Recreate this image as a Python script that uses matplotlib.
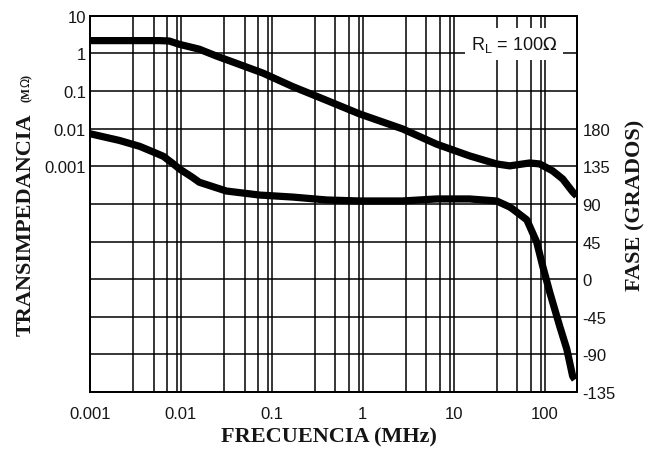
import matplotlib.pyplot as plt
import numpy as np

# transimpedancia (MOhm) vs frecuencia (MHz)
freq_mag = [0.001, 0.0058, 0.0074, 0.0096, 0.0125, 0.0159, 0.0244, 0.0367, 0.08,
            0.168, 0.398, 0.918, 2.73, 6.46, 14.9, 29.6, 41.2, 68.3, 88, 122,
            158, 203, 225]
mag = [2.2, 2.2, 2.15, 1.75, 1.5, 1.3, 0.86, 0.6, 0.3,
       0.133, 0.057, 0.0248, 0.0099, 0.0039, 0.0019, 0.00116, 0.00103, 0.00123,
       0.00116, 0.00076, 0.00046, 0.00021, 0.000163]

# fase (grados) vs frecuencia (MHz)
freq_phase = [0.001, 0.0021, 0.0035, 0.005, 0.0064, 0.008, 0.0096, 0.0133, 0.0159,
              0.0315, 0.0727, 0.168, 0.398, 0.918, 2.73, 6.46, 14.9, 29.6, 41.2,
              44.4, 63.6, 81.6, 95, 113.5, 146, 175, 203, 215]
phase = [174, 166, 159, 152, 147, 139, 132, 122, 116,
         105.5, 100.7, 98.3, 94.8, 93.6, 93.6, 96, 96, 93.6, 86.4,
         84, 71, 44.5, 15.8, -15.4, -56, -83.6, -116, -120]

x_ticks = [0.001, 0.01, 0.1, 1, 10, 100]
x_labels = ["0.001", "0.01", "0.1", "1", "10", "100"]
mag_ticks = [10, 1, 0.1, 0.01, 0.001]
mag_labels = ["10", "1", "0.1", "0.01", "0.001"]
phase_ticks = [180, 135, 90, 45, 0, -45, -90, -135]
phase_labels = ["180", "135", "90", "45", "0", "-45", "-90", "-135"]

sans = "Liberation Sans"
serif = "Liberation Serif"
ink = "#151515"

fig = plt.figure(figsize=(6.48, 4.56), dpi=100)
ax = fig.add_axes([0.139, 0.138, 0.751, 0.825])
ax2 = ax.twinx()

ax.set_xscale("log")
ax.set_yscale("log")
ax.set_xlim(0.001, 225)
ax.set_ylim(1e-9, 10)
ax2.set_ylim(-135, 315)

# grid: decades plus 3, 5, 7, 9 in every decade
minor_x = [m * d for d in [0.001, 0.01, 0.1, 1, 10, 100] for m in (3, 5, 7, 9)]
minor_x = [v for v in minor_x if v < 225]
ax.set_xticks(x_ticks)
ax.set_xticklabels(x_labels)
ax.set_xticks(minor_x, minor=True)
ax.set_xticklabels([], minor=True)

decades = [10.0 ** k for k in range(-9, 2)]
ax.set_yticks(decades)
ax.set_yticklabels([mag_labels[mag_ticks.index(d)] if d in mag_ticks else "" for d in decades])
ax.yaxis.set_minor_locator(plt.NullLocator())

ph_grid = np.arange(-135, 316, 45)
ax2.set_yticks(ph_grid)
ax2.set_yticklabels([phase_labels[phase_ticks.index(v)] if v in phase_ticks else ""
                     for v in ph_grid])

ax.grid(True, which="both", axis="x", color="black", linewidth=1.1)
ax.grid(True, which="major", axis="y", color="black", linewidth=1.1)

for a in (ax, ax2):
    a.tick_params(which="both", length=0, labelsize=12, colors=ink)
    for s in a.spines.values():
        s.set_linewidth(1.3)
        s.set_color("black")
    for lbl in a.get_xticklabels() + a.get_yticklabels():
        lbl.set_fontfamily(sans)
ax.tick_params(axis="x", pad=10)
ax.tick_params(axis="y", pad=3)
ax2.tick_params(axis="y", pad=4)

ax.plot(freq_mag, mag, color="black", linewidth=5.2, solid_capstyle="butt", zorder=3)
ax2.plot(freq_phase, phase, color="black", linewidth=5.2, solid_capstyle="butt", zorder=3)

ax2.text(0.871, 0.925, r"R$_\mathregular{L}$ = 100$\Omega$", transform=ax2.transAxes,
         ha="center", va="center", fontsize=13, family=sans, color=ink, zorder=5,
         bbox=dict(facecolor="white", edgecolor="none", pad=4.5))

fig.text(0.508, 0.04, "FRECUENCIA (MHz)", ha="center", va="center",
         family=serif, fontweight="bold", fontsize=16, color=ink)
fig.text(0.039, 0.507, "TRANSIMPEDANCIA", rotation=90, ha="center", va="center",
         family=serif, fontweight="bold", fontsize=16, color=ink)
fig.text(0.042, 0.807, r"(M$\Omega$)", rotation=90, ha="center", va="center",
         family=serif, fontweight="bold", fontsize=8.5, color=ink)
fig.text(0.98, 0.55, "FASE (GRADOS)", rotation=90, ha="center", va="center",
         family=serif, fontweight="bold", fontsize=16, color=ink)

plt.savefig("out.png", dpi=100)
plt.close()
